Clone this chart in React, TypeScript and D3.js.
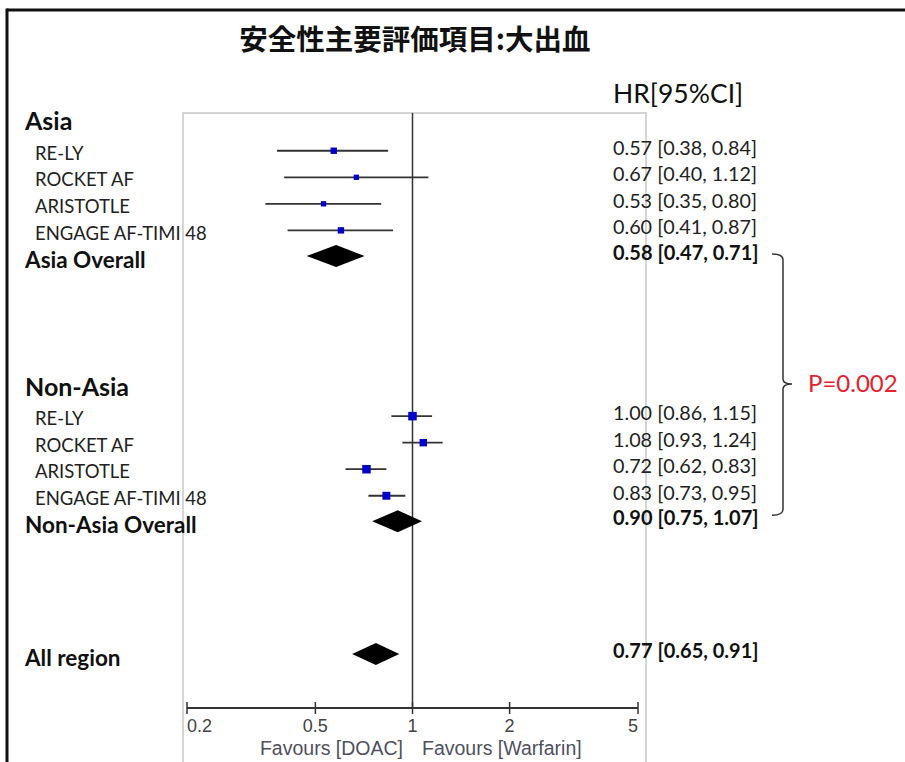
import React from "react";
import * as d3 from "d3";

const title = "安全性主要評価項目:大出血";
const hrHeader = "HR[95%CI]";
const groups = ["Asia", "Non-Asia"];
const studies = ["RE-LY", "ROCKET AF", "ARISTOTLE", "ENGAGE AF-TIMI 48"];
const asiaHR = [0.57, 0.67, 0.53, 0.6];
const asiaLo = [0.38, 0.4, 0.35, 0.41];
const asiaHi = [0.84, 1.12, 0.8, 0.87];
const asiaWeight = [3.6, 2.5, 2.5, 3.6];
const nonAsiaHR = [1.0, 1.08, 0.72, 0.83];
const nonAsiaLo = [0.86, 0.93, 0.62, 0.73];
const nonAsiaHi = [1.15, 1.24, 0.83, 0.95];
const nonAsiaWeight = [6.4, 4.9, 6.4, 5.6];
const overallLabels = ["Asia Overall", "Non-Asia Overall", "All region"];
const overallHR = [0.58, 0.9, 0.77];
const overallLo = [0.47, 0.75, 0.65];
const overallHi = [0.71, 1.07, 0.91];
const tickValues = [0.2, 0.5, 1, 2, 5];
const tickLabels = ["0.2", "0.5", "1", "2", "5"];
const favourLeft = "Favours [DOAC]";
const favourRight = "Favours [Warfarin]";
const pValue = "P=0.002";

const fmt = (v: number) => v.toFixed(2);
const ciText = (h: number, l: number, u: number) => `${fmt(h)} [${fmt(l)}, ${fmt(u)}]`;

export default function App() {
  const x = d3.scaleLog().domain([0.2, 5]).range([187, 638]);
  const y = d3.scaleLinear().domain([0, 20]).range([124.2, 655]);
  const sz = d3.scaleSqrt().domain([0, 6.4]).range([0, 8.5]);
  const axisY = 708;
  const labelFont = "Lato, 'Noto Sans', sans-serif";
  const studyRows = [
    ...studies.map((s, i) => ({ name: s, hr: asiaHR[i], lo: asiaLo[i], hi: asiaHi[i], w: asiaWeight[i], row: 1 + i })),
    ...studies.map((s, i) => ({ name: s, hr: nonAsiaHR[i], lo: nonAsiaLo[i], hi: nonAsiaHi[i], w: nonAsiaWeight[i], row: 11 + i })),
  ];
  const overallRows = overallLabels.map((s, i) => ({ name: s, hr: overallHR[i], lo: overallLo[i], hi: overallHi[i], row: [5, 15, 20][i] }));
  const headerRows = groups.map((g, i) => ({ name: g, row: [0, 10][i] }));
  const diamond = (r: { hr: number; lo: number; hi: number; row: number }) => {
    const cy = y(r.row) - 1;
    const h = 11;
    return `M${x(r.lo)},${cy} L${x(r.hr)},${cy - h} L${x(r.hi)},${cy} L${x(r.hr)},${cy + h} Z`;
  };
  const bTop = y(5) - 3;
  const bBot = y(15) - 7;
  const bMid = 384;
  const bx = 783;
  return (
    <svg width={905} height={762} style={{ position: "absolute", left: 0, top: 0, background: "#fff" }}>
      <rect x={0} y={0} width={905} height={762} fill="#fff" />
      {/* outer frame */}
      <line x1={7} y1={10} x2={905} y2={10} stroke="#111" strokeWidth={3} />
      <line x1={7} y1={8.5} x2={7} y2={762} stroke="#111" strokeWidth={3} />
      {/* inner box */}
      <path d={`M183,770 L183,113 L646,113 L646,770`} fill="none" stroke="#c8c8c8" strokeWidth={1.5} />
      <text x={415} y={42} textAnchor="middle" dominantBaseline="middle" fontFamily="'Noto Sans CJK JP', sans-serif" fontWeight="bold" fontSize={28.5} fill="#111">
        {title}
      </text>
      <text x={613} y={96} dominantBaseline="middle" fontFamily={labelFont} fontSize={26.5} fill="#111">
        {hrHeader}
      </text>
      {/* reference line */}
      <line x1={x(1)} y1={113} x2={x(1)} y2={axisY} stroke="#333" strokeWidth={1.5} />
      {/* group headers */}
      {headerRows.map((h) => (
        <text key={h.name} x={25} y={y(h.row) - 0.5} dominantBaseline="middle" fontFamily={labelFont} fontWeight="bold" fontSize={25} fill="#111">
          {h.name}
        </text>
      ))}
      {/* studies */}
      {studyRows.map((r, i) => (
        <g key={i}>
          <text x={35} y={y(r.row) + 4.5} dominantBaseline="middle" fontFamily={labelFont} fontSize={18.5} fill="#222">
            {r.name}
          </text>
          <line x1={x(r.lo)} x2={x(r.hi)} y1={y(r.row)} y2={y(r.row)} stroke="#333" strokeWidth={1.8} />
          <rect x={x(r.hr) - sz(r.w) / 2} y={y(r.row) - sz(r.w) / 2} width={sz(r.w)} height={sz(r.w)} fill="#0000cc" />
          <text x={613} y={y(r.row) - 1} dominantBaseline="middle" fontFamily={labelFont} fontSize={19.8} fill="#222">
            {ciText(r.hr, r.lo, r.hi)}
          </text>
        </g>
      ))}
      {/* overall */}
      {overallRows.map((r, i) => (
        <g key={"o" + i}>
          <text x={25} y={y(r.row) + 5} dominantBaseline="middle" fontFamily={labelFont} fontWeight="bold" fontSize={22.5} fill="#111">
            {r.name}
          </text>
          <path d={diamond(r)} fill="#000" />
          <text x={613} y={y(r.row) - 2} dominantBaseline="middle" fontFamily={labelFont} fontWeight="bold" fontSize={20} fill="#111">
            {ciText(r.hr, r.lo, r.hi)}
          </text>
        </g>
      ))}
      {/* bracket */}
      <path
        d={`M772,${bTop} Q${bx},${bTop} ${bx},${bTop + 6} L${bx},${bMid - 5} Q${bx},${bMid} ${bx + 9},${bMid} Q${bx},${bMid} ${bx},${bMid + 5} L${bx},${bBot - 6} Q${bx},${bBot} 772,${bBot}`}
        fill="none"
        stroke="#333"
        strokeWidth={1.5}
      />
      <text x={808} y={386} dominantBaseline="middle" fontFamily={labelFont} fontSize={24} fill="#e8202a">
        {pValue}
      </text>
      {/* axis */}
      <line x1={x(0.2)} x2={x(5)} y1={axisY} y2={axisY} stroke="#333" strokeWidth={2} />
      {tickValues.map((t, i) => (
        <g key={t}>
          <line x1={x(t)} x2={x(t)} y1={axisY - 6} y2={axisY + 6} stroke="#333" strokeWidth={1.5} />
          <text
            x={x(t)}
            y={732}
            textAnchor={i === 0 ? "start" : i === tickValues.length - 1 ? "end" : "middle"}
            fontFamily="'Liberation Sans', Arial, sans-serif"
            fontSize={18}
            fill="#444"
          >
            {tickLabels[i]}
          </text>
        </g>
      ))}
      <text x={403} y={755} textAnchor="end" fontFamily="'Liberation Sans', Arial, sans-serif" fontSize={19.5} fill="#505060">
        {favourLeft}
      </text>
      <text x={422} y={755} textAnchor="start" fontFamily="'Liberation Sans', Arial, sans-serif" fontSize={19.5} fill="#505060">
        {favourRight}
      </text>
    </svg>
  );
}
